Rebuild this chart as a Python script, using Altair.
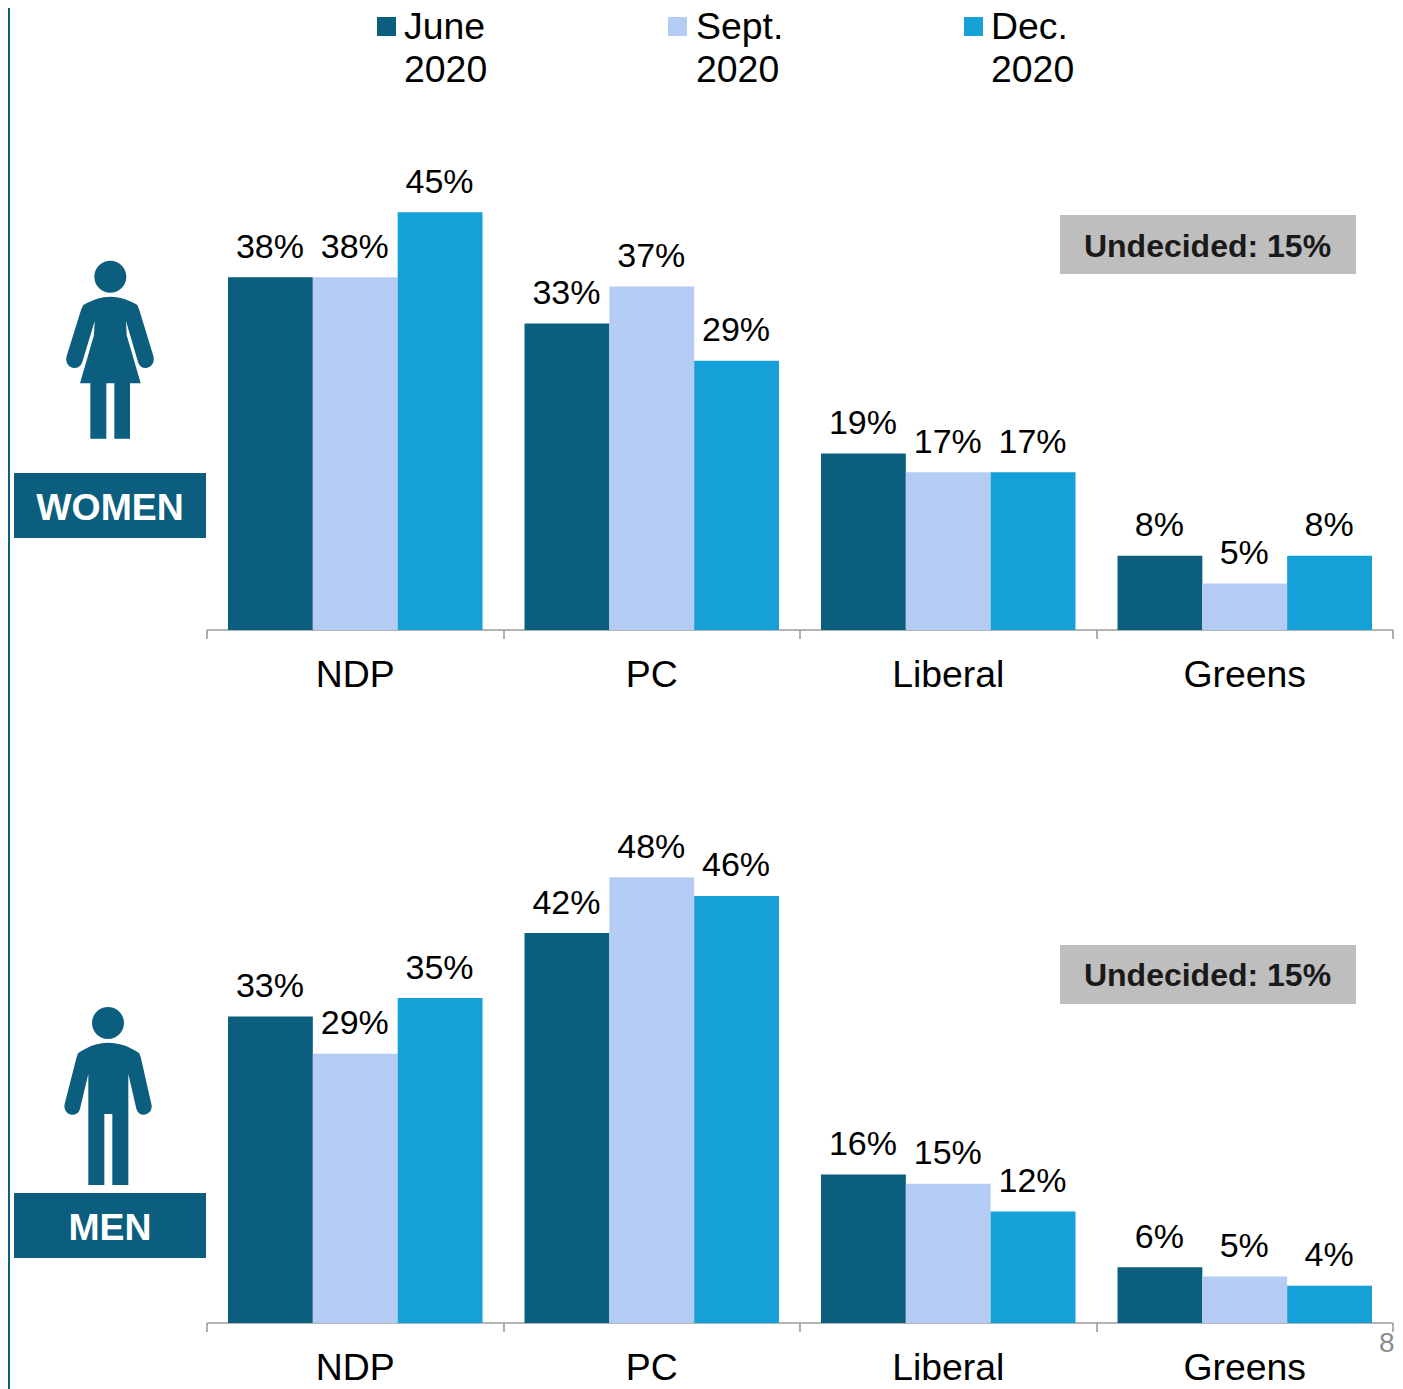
import altair as alt
import pandas as pd

parties = ["NDP", "PC", "Liberal", "Greens"]
waves = ["June 2020", "Sept. 2020", "Dec. 2020"]
colors = ["#0B5E7D", "#B4CCF4", "#15A0D8"]
women_june = [38, 33, 19, 8]
women_sept = [38, 37, 17, 5]
women_dec = [45, 29, 17, 8]
men_june = [33, 42, 16, 6]
men_sept = [29, 48, 15, 5]
men_dec = [35, 46, 12, 4]

FONT = "Liberation Sans"
DARK = colors[0]
PX_PER_PCT = 9.285
LEFT, TOP = 207, 8  # plot origin on the page
W, H = 1186, 1315
SVG_W, SVG_H = 1387, 1381


def px(v):
    return v - LEFT


def py(v):
    return v - 8


def table(a, b, c):
    rows = []
    for w, vals in zip(waves, (a, b, c)):
        for p, v in zip(parties, vals):
            rows.append({"party": p, "wave": w, "value": v, "label": f"{v}%"})
    return pd.DataFrame(rows)


def panel(df, base_page_y, axis_offset):
    base = py(base_page_y)
    yscale = alt.Scale(domain=[0, 490 / PX_PER_PCT], range=[base, base - 490], nice=False, zero=True)
    xenc = alt.X(
        "party:N",
        sort=parties,
        title=None,
        scale=alt.Scale(paddingInner=0, paddingOuter=0),
        axis=alt.Axis(
            orient="bottom",
            tickBand="extent",
            offset=axis_offset,
            translate=0,
            domainColor="#9c9c9c",
            domainWidth=1.6,
            tickColor="#9c9c9c",
            tickWidth=1.6,
            tickSize=9,
            labelAngle=0,
            labelFont=FONT,
            labelFontSize=37.4,
            labelColor="#000000",
            labelPadding=18,
            grid=False,
        ),
    )
    xoff = alt.XOffset("wave:N", sort=waves, scale=alt.Scale(paddingInner=0, paddingOuter=0.2476))
    bars = alt.Chart(df).mark_bar().encode(
        x=xenc,
        xOffset=xoff,
        y=alt.Y("value:Q", scale=yscale, axis=None),
        color=alt.Color("wave:N", sort=waves, scale=alt.Scale(domain=waves, range=colors), legend=None),
    )
    labels = alt.Chart(df).mark_text(
        font=FONT, fontSize=34, color="#000000", baseline="alphabetic", dy=-19.5, dx=-0.5
    ).encode(
        x=xenc,
        xOffset=xoff,
        y=alt.Y("value:Q", scale=yscale, axis=None),
        text="label:N",
    )
    return alt.layer(bars, labels)


def box(x0, x1, y0, y1, fill):
    return alt.Chart(pd.DataFrame({"k": [0]})).mark_rect(fill=fill).encode(
        x=alt.value(px(x0)), x2=alt.value(px(x1)), y=alt.value(py(y0)), y2=alt.value(py(y1))
    )


def note(text, x, y, **kw):
    return alt.Chart(pd.DataFrame({"t": [text]})).mark_text(font=FONT, **kw).encode(
        x=alt.value(px(x)), y=alt.value(py(y)), text="t:N"
    )


def icon(path_cmds, cx, cy):
    return alt.Chart(pd.DataFrame({"k": [0]})).mark_point(
        shape=path_cmds, filled=True, fill=DARK, opacity=1, strokeWidth=0, size=40000
    ).encode(x=alt.value(px(cx)), y=alt.value(py(cy)))


def circle(cx, cy, r, k=0.5523):
    c = k * r
    return [
        ("M", [(cx - r, cy)]),
        ("C", [(cx - r, cy - c), (cx - c, cy - r), (cx, cy - r)]),
        ("C", [(cx + c, cy - r), (cx + r, cy - c), (cx + r, cy)]),
        ("C", [(cx + r, cy + c), (cx + c, cy + r), (cx, cy + r)]),
        ("C", [(cx - c, cy + r), (cx - r, cy + c), (cx - r, cy)]),
    ]


woman = circle(331, 80, 48) + [("Z", [])] + [
    ("M", [(250, 165)]),
    ("C", [(280, 148), (305, 140), (331, 140)]),
    ("C", [(357, 140), (385, 148), (412, 165)]),
    ("L", [(418, 180), (460, 318)]),
    ("C", [(466, 338), (452, 354), (437, 354)]),
    ("C", [(425, 354), (418, 348), (414, 336)]),
    ("L", [(378, 213), (380, 255), (422, 400), (390, 400), (390, 566), (343, 566), (343, 400),
           (319, 400), (319, 566), (271, 566), (271, 400), (240, 400), (282, 255), (284, 213), (247, 336)]),
    ("C", [(242, 348), (235, 354), (223, 354)]),
    ("C", [(208, 354), (194, 338), (200, 318)]),
    ("L", [(243, 180)]),
]
man = circle(324, 69, 48) + [("Z", [])] + [
    ("M", [(234, 160)]),
    ("C", [(265, 138), (295, 128), (324, 128)]),
    ("C", [(355, 128), (388, 138), (418, 160)]),
    ("L", [(423, 175), (454, 312)]),
    ("C", [(459, 330), (446, 344), (431, 344)]),
    ("C", [(420, 344), (413, 338), (409, 326)]),
    ("L", [(385, 222), (385, 555), (337, 555), (337, 342), (313, 342), (313, 555), (265, 555), (265, 222), (240, 326)]),
    ("C", [(237, 338), (228, 344), (216, 344)]),
    ("C", [(202, 344), (190, 330), (194, 312)]),
    ("L", [(229, 175)]),
]


def path_str(groups, ox, oy, cx, cy):
    parts = []
    for cmd, pts in groups:
        if cmd == "Z":
            parts.append("Z")
        else:
            parts.append(cmd + " ".join(
                f"{(x / 3 + ox - cx) / 100:.4f},{(y / 3 + oy - cy) / 100:.4f}" for x, y in pts))
    return " ".join(parts) + " Z"


WOMAN_C = (110, 350)
MAN_C = (108, 1096)

women = panel(table(women_june, women_sept, women_dec), 630, -693)
men = panel(table(men_june, men_sept, men_dec), 1323, 0)

decor = [
    box(8, 10, 8, 1389, DARK),
    box(14, 206, 473, 538, DARK),
    box(14, 206, 1193, 1258, DARK),
    box(1060, 1356, 215, 274, "#BEBEBE"),
    box(1060, 1356, 945, 1004, "#BEBEBE"),
    note("WOMEN", 110, 519.5, fontSize=37.4, fontWeight="bold", color="#FFFFFF", align="center", baseline="alphabetic"),
    note("MEN", 110, 1239.5, fontSize=37.4, fontWeight="bold", color="#FFFFFF", align="center", baseline="alphabetic"),
    note("Undecided: 15%", 1207.5, 257, fontSize=32, fontWeight="bold", color="#1A1A1A", align="center", baseline="alphabetic"),
    note("Undecided: 15%", 1207.5, 986, fontSize=32, fontWeight="bold", color="#1A1A1A", align="center", baseline="alphabetic"),
    note("8", 1379, 1352, fontSize=28, color="#8C8C8C", align="left", baseline="alphabetic"),
    icon(path_str(woman, 0, 250, *WOMAN_C), *WOMAN_C),
    icon(path_str(man, 0, 1000, *MAN_C), *MAN_C),
]

legend_x = [377, 668, 964]
legend_text_x = [404, 696, 991]
for name, col, sx, tx in zip(waves, colors, legend_x, legend_text_x):
    decor.append(box(sx, sx + 19, 17, 36, col))
    first, second = name.split(" ")
    decor.append(note(first, tx, 39, fontSize=37.4, color="#000000", align="left", baseline="alphabetic"))
    decor.append(note(second, tx, 82, fontSize=37.4, color="#000000", align="left", baseline="alphabetic"))

chart = (
    alt.layer(women, men, *decor)
    .resolve_scale(y="independent")
    .resolve_axis(x="independent")
    .properties(
        width=W,
        height=H,
        autosize=alt.AutoSizeParams(type="none"),
        padding={"left": LEFT - 8, "top": 0, "right": SVG_W - (LEFT - 8) - W, "bottom": SVG_H - H},
    )
    .configure_view(stroke=None)
)

chart.save("out.html", embed_options={"renderer": "svg", "actions": False})
